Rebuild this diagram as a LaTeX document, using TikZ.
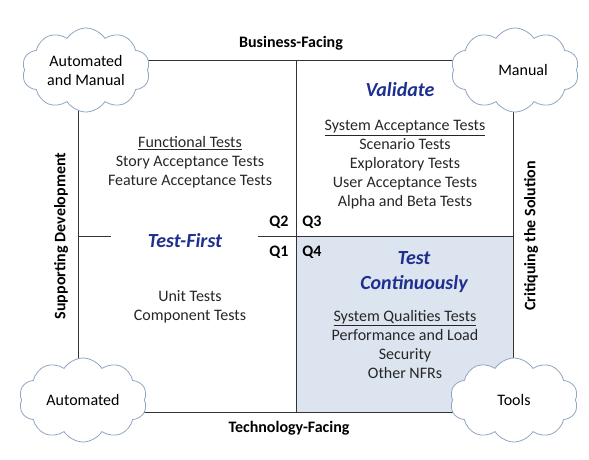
\documentclass[tikz,border=0pt]{standalone}
\usepackage{fontspec}
\setmainfont{Carlito}
\usepackage{xcolor}
\usetikzlibrary{shapes.symbols, positioning}
\definecolor{mottoblue}{HTML}{1F2F8F}
\definecolor{qfourfill}{HTML}{DCE4EF}
\definecolor{cloudline}{HTML}{8FA5C2}
\definecolor{frameline}{HTML}{333333}
\tikzset{
  axislabel/.style={font=\bfseries\fontsize{16}{18}\selectfont},
  quadlabel/.style={font=\bfseries\fontsize{16}{18}\selectfont},
  motto/.style={font=\bfseries\itshape\fontsize{20}{25}\selectfont, text=mottoblue, align=center},
  testlist/.style={font=\fontsize{16}{19}\selectfont, align=center, text=black!85},
  puff/.style={cloud, cloud puffs=10, cloud puff arc=115, cloud ignores aspect,
    draw=cloudline, fill=white, line width=0.8pt, align=center,
    font=\fontsize{16}{19}\selectfont, minimum width=128pt, minimum height=84pt,
    inner sep=-6pt},
}

\begin{document}
\begin{tikzpicture}[x=1pt, y=-1pt]
  \useasboundingbox (0,0) rectangle (589,459);
  % shaded quadrant Q4
  \fill[qfourfill] (296,236) rectangle (513,412);
  % frame and axes
  \draw[frameline, line width=1pt] (78,60) rectangle (513,412);
  \draw[frameline, line width=1pt] (296,60) -- (296,412);
  \draw[frameline, line width=1pt] (78,236) -- (111,236);
  \draw[frameline, line width=1pt] (258,236) -- (513,236);

  % axis labels
  \node[axislabel] (business) at (291,43) {Business-Facing};
  \node[axislabel] (technology) at (289,428) {Technology-Facing};
  \node[axislabel, rotate=90] (supporting) at (61,236) {Supporting Development};
  \node[axislabel, rotate=90] (critiquing) at (531,236) {Critiquing the Solution};

  % quadrant numbers
  \node[quadlabel] (qtwo) at (279,222) {Q2};
  \node[quadlabel] (qthree) at (312,222) {Q3};
  \node[quadlabel] (qone) at (279,252) {Q1};
  \node[quadlabel] (qfour) at (312,252) {Q4};

  % mottos
  \node[motto] (validate) at (400,90) {Validate};
  \node[motto] (testfirst) at (185,241) {Test-First};
  \node[motto] (continuously) at (414,272) {Test\\Continuously};

  % test lists
  \node[testlist] (functional) at (190,162)
    {\underline{Functional Tests}\\Story Acceptance Tests\\Feature Acceptance Tests};
  \node[testlist] (system) at (405,165)
    {\underline{System Acceptance Tests}\\Scenario Tests\\Exploratory Tests\\User Acceptance Tests\\Alpha and Beta Tests};
  \node[testlist] (unit) at (190,307)
    {Unit Tests\\Component Tests};
  \node[testlist] (qualities) at (405,344)
    {\underline{System Qualities Tests}\\Performance and Load\\Security\\Other NFRs};

  % clouds on the corners
  \node[puff] (automanual) at (86,70) {Automated\\and Manual};
  \node[puff] (manual) at (515,70) {\hspace*{16pt}Manual};
  \node[puff] (automated) at (83,400) {Automated};
  \node[puff] (tools) at (514,400) {Tools};
\end{tikzpicture}
\end{document}
